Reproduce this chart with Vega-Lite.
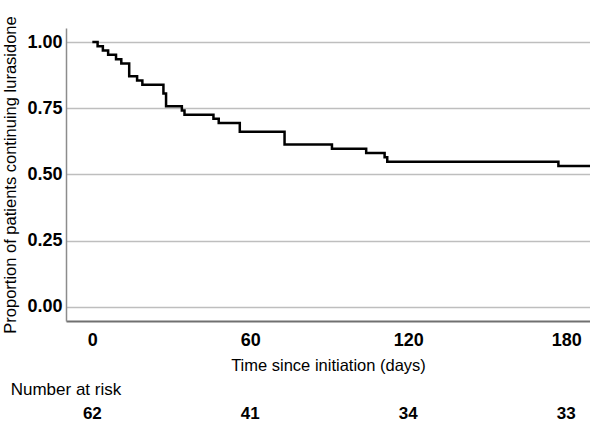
{
  "$schema": "https://vega.github.io/schema/vega-lite/v6.json",
  "autosize": {"type": "none"},
  "width": 524,
  "height": 293,
  "padding": {"left": 66, "top": 28, "right": 0, "bottom": 102},
  "background": "white",
  "config": {
    "view": {"stroke": null},
    "font": "Liberation Sans",
    "text": {"font": "Liberation Sans"}
  },
  "datasets": {
    "survival": [
      {"time": 0, "survival": 1.0},
      {"time": 2, "survival": 0.984},
      {"time": 4, "survival": 0.968},
      {"time": 6, "survival": 0.952},
      {"time": 9, "survival": 0.935},
      {"time": 11, "survival": 0.919},
      {"time": 14, "survival": 0.871},
      {"time": 17, "survival": 0.855},
      {"time": 19, "survival": 0.839},
      {"time": 27, "survival": 0.806},
      {"time": 28, "survival": 0.758},
      {"time": 34, "survival": 0.742},
      {"time": 35, "survival": 0.726},
      {"time": 46, "survival": 0.71},
      {"time": 48, "survival": 0.694},
      {"time": 56, "survival": 0.661},
      {"time": 73, "survival": 0.613},
      {"time": 91, "survival": 0.597},
      {"time": 104, "survival": 0.581},
      {"time": 111, "survival": 0.565},
      {"time": 112, "survival": 0.548},
      {"time": 177, "survival": 0.532},
      {"time": 190, "survival": 0.532}
    ],
    "risk": [
      {"time": 0, "at_risk": 62},
      {"time": 60, "at_risk": 41},
      {"time": 120, "at_risk": 34},
      {"time": 180, "at_risk": 33}
    ],
    "riskHeader": [
      {"label": "Number at risk"}
    ]
  },
  "layer": [
    {
      "data": {"name": "survival"},
      "mark": {"type": "line", "interpolate": "step-after", "color": "black", "strokeWidth": 2.5, "clip": true},
      "encoding": {
        "x": {
          "field": "time",
          "type": "quantitative",
          "scale": {"domain": [-10, 189], "nice": false, "zero": false},
          "axis": {
            "values": [0, 60, 120, 180],
            "title": "Time since initiation (days)",
            "titleFont": "Liberation Sans",
            "titleFontSize": 16.5,
            "titleFontWeight": "normal",
            "titleColor": "black",
            "titlePadding": 8,
            "labelFont": "Liberation Sans",
            "labelFontSize": 18,
            "labelFontWeight": "bold",
            "labelColor": "black",
            "labelPadding": 10,
            "ticks": false,
            "grid": false,
            "domainColor": "#707070",
            "domainWidth": 2
          }
        },
        "y": {
          "field": "survival",
          "type": "quantitative",
          "scale": {"domain": [-0.053, 1.053], "nice": false, "zero": false},
          "axis": {
            "values": [0, 0.25, 0.5, 0.75, 1],
            "format": ".2f",
            "title": "Proportion of patients continuing lurasidone",
            "titleFont": "Liberation Sans",
            "titleFontSize": 16.5,
            "titleFontWeight": "normal",
            "titleColor": "black",
            "titlePadding": 8,
            "labelFont": "Liberation Sans",
            "labelFontSize": 18,
            "labelFontWeight": "bold",
            "labelColor": "black",
            "labelPadding": 4,
            "ticks": false,
            "grid": true,
            "gridColor": "#bebebe",
            "gridWidth": 1.5,
            "domainColor": "#8c8c8c",
            "domainWidth": 1.5
          }
        }
      }
    },
    {
      "data": {"name": "risk"},
      "mark": {"type": "text", "font": "Liberation Sans", "fontSize": 17, "fontWeight": "bold", "color": "black", "align": "center", "baseline": "alphabetic", "clip": false},
      "encoding": {
        "x": {"field": "time", "type": "quantitative"},
        "y": {"datum": -0.424},
        "text": {"field": "at_risk", "type": "quantitative"}
      }
    },
    {
      "data": {"name": "riskHeader"},
      "mark": {"type": "text", "font": "Liberation Sans", "fontSize": 17, "color": "black", "align": "left", "baseline": "alphabetic", "clip": false},
      "encoding": {
        "x": {"datum": -31},
        "y": {"datum": -0.334},
        "text": {"field": "label", "type": "nominal"}
      }
    }
  ]
}
